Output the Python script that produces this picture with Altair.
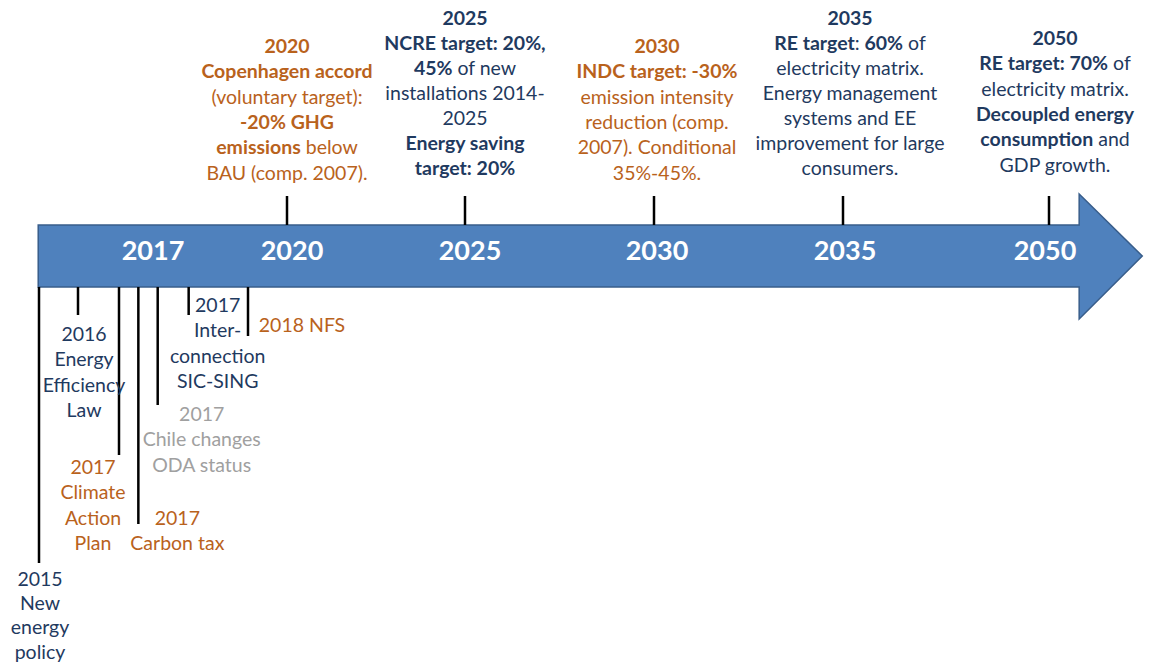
import glob
import subprocess
import altair as alt
import pandas as pd

# ---------------- data ----------------
# Targets above the arrow (year, colour group, text lines made of (text, bold) segments)
top_years = [2020, 2025, 2030, 2035, 2050]
top_groups = ["orange", "navy", "orange", "navy", "navy"]
top_2020 = [[("2020", 1)], [("Copenhagen accord", 1)], [("(voluntary target):", 0)],
            [("-20% GHG", 1)], [("emissions", 1), (" below", 0)], [("BAU (comp. 2007).", 0)]]
top_2025 = [[("2025", 1)], [("NCRE target: 20%,", 1)], [("45%", 1), (" of new", 0)],
            [("installations 2014-", 0)], [("2025", 0)], [("Energy saving", 1)], [("target: 20%", 1)]]
top_2030 = [[("2030", 1)], [("INDC target: -30%", 1)], [("emission intensity", 0)],
            [("reduction (comp.", 0)], [("2007). Conditional", 0)], [("35%-45%.", 0)]]
top_2035 = [[("2035", 1)], [("RE target", 1), (":", 0), (" 60%", 1), (" of", 0)],
            [("electricity matrix.", 0)], [("Energy management", 0)], [("systems and EE", 0)],
            [("improvement for large", 0)], [("consumers.", 0)]]
top_2050 = [[("2050", 1)], [("RE target: 70%", 1), (" of", 0)], [("electricity matrix.", 0)],
            [("Decoupled energy", 1)], [("consumption", 1), (" and", 0)], [("GDP growth.", 0)]]
top_texts = [top_2020, top_2025, top_2030, top_2035, top_2050]

# Policies below the arrow (position on the timeline in fractional years)
bottom_t = [2015, 2016, 2017.0, 2017.15, 2017.3, 2017.54, 2018]
bottom_groups = ["navy", "navy", "orange", "orange", "gray", "navy", "orange"]
bottom_texts = [["2015", "New", "energy", "policy"],
                ["2016", "Energy", "Efficiency", "Law"],
                ["2017", "Climate", "Action", "Plan"],
                ["2017", "Carbon tax"],
                ["2017", "Chile changes", "ODA status"],
                ["2017", "Inter-", "connection", "SIC-SING"],
                ["2018 NFS"]]

# Year labels on the arrow
arrow_years = [2017, 2020, 2025, 2030, 2035, 2050]

# ---------------- layout / style ----------------
FONT = "Lato"
FS = 19.5
ARROW_FS = 27
LINE = 25.3
top_first_line = [47, 19, 47, 19, 39]
top_line = [LINE, 25.0, LINE, 25.0, LINE]
top_dx = [0, 0, 3, 7, 6]
top_stem = (196, 225)
bottom_first_line = [580, 335, 468, 519, 415, 306, 326]
bottom_line = [24.2, LINE, LINE, LINE, LINE, LINE, LINE]
bottom_dx = [1, 6, -26, 39, 44, 29, 54]
bottom_stem_end = [563, 315, 455, 524, 405, 315, 336]
arrow_label_dx = [34, 5, 5, 3, 2, -4]
arrow_label_y = 252
# arrow outline (timeline units / page pixels)
arrow_t = [2014.98, 2052.2, 2052.2001, 2056.8]
arrow_top = [225, 225, 194, 256]
arrow_bot = [287, 287, 319, 256]

# piecewise timeline scale (years -> page pixels)
scale_years = [2015, 2016, 2017, 2018, 2020, 2025, 2030, 2035, 2050, 2057]
scale_page_px = [39, 78, 119, 248, 287, 465, 654, 843, 1049, 1145]

color_domain = ["orange", "navy", "gray", "white"]
color_range = ["#B9621C", "#1F3A60", "#A0A0A0", "#FFFFFF"]

# ---------------- text measuring ----------------
def find_font(style):
    try:
        p = subprocess.run(["fc-match", "-f", "%{file}", f"Lato:style={style}"],
                           capture_output=True, text=True, timeout=10).stdout.strip()
        if p and "Lato" in p:
            return p
    except Exception:
        pass
    hits = glob.glob(f"/usr/share/fonts/**/Lato-{style}.ttf", recursive=True)
    return hits[0] if hits else None

try:
    from PIL import ImageFont
    _f = {1: ImageFont.truetype(find_font("Bold"), 100), 0: ImageFont.truetype(find_font("Regular"), 100)}

    def tw(s, b):
        return _f[b].getlength(s) * FS / 100.0
except Exception:
    def tw(s, b):
        w = 0.0
        for ch in s:
            if ch == " ":
                w += 0.25
            elif ch.isdigit():
                w += 0.58
            elif ch.isupper():
                w += 0.64
            elif ch in ".,:;()-":
                w += 0.3
            elif ch == "%":
                w += 0.8
            elif ch in "il":
                w += 0.24
            elif ch in "mw":
                w += 0.8
            else:
                w += 0.52
        return w * FS * (1.04 if b else 1.0)

# ---------------- tables ----------------
rows = []
for t, g, y0, ls, dx, lines in zip(top_years, top_groups, top_first_line, top_line, top_dx, top_texts):
    for i, segs in enumerate(lines):
        y = y0 + i * ls
        if len(segs) == 1:
            rows.append(dict(t=t, y=y, text=segs[0][0], group=g, bold=segs[0][1], multi=0, off=dx))
        else:
            pieces, pos = [], 0.0
            for s, b in segs:
                lead = len(s) - len(s.lstrip(" "))
                pos += lead * tw(" ", 0)
                s2 = s.strip(" ")
                pieces.append((pos, s2, b))
                pos += tw(s2, b)
            for p, s2, b in pieces:
                rows.append(dict(t=t, y=y, text=s2, group=g, bold=b, multi=1,
                                 off=round(dx - pos / 2 + p, 1)))
for t, g, y0, ls, dx, lines in zip(bottom_t, bottom_groups, bottom_first_line, bottom_line,
                                   bottom_dx, bottom_texts):
    for i, s in enumerate(lines):
        rows.append(dict(t=t, y=y0 + i * ls, text=s, group=g, bold=0, multi=0, off=dx))
text_df = pd.DataFrame(rows)

arrow_lbl_df = pd.DataFrame(dict(t=arrow_years, y=arrow_label_y, text=[str(a) for a in arrow_years],
                                 off=arrow_label_dx))

stems = [dict(t=t, y=top_stem[0], y2=top_stem[1]) for t in top_years]
stems += [dict(t=t, y=287, y2=e) for t, e in zip(bottom_t, bottom_stem_end)]
stem_df = pd.DataFrame(stems)

arrow_df = pd.DataFrame(dict(t=arrow_t, y=arrow_top, y2=arrow_bot))

# ---------------- chart ----------------
X = alt.X("t:Q", axis=None,
          scale=alt.Scale(domain=scale_years, range=[p - 8 for p in scale_page_px], nice=False, zero=False))
Y = alt.Y("y:Q", axis=None, scale=alt.Scale(domain=[8, 664], range=[0, 656], nice=False, zero=False))
COLOR = alt.Color("group:N", legend=None, scale=alt.Scale(domain=color_domain, range=color_range))

arrow = alt.Chart(arrow_df).mark_area(fill="#4F81BD", stroke="#385D8A", strokeWidth=1.5).encode(
    x=X, y=Y, y2="y2:Q")

ticks = alt.Chart(stem_df).mark_rule(color="black", strokeWidth=2.5).encode(x=X, y=Y, y2="y2:Q")

layers = [arrow, ticks]

# arrow year labels (one layer per horizontal nudge)
for off in sorted(arrow_lbl_df["off"].unique()):
    layers.append(
        alt.Chart(arrow_lbl_df).transform_filter(f"datum.off == {off}").mark_text(
            font=FONT, fontSize=ARROW_FS, fontWeight="bold", align="center", baseline="middle",
            color="white", dx=float(off)
        ).encode(x=X, y=Y, text="text:N")
    )

# event texts: one layer per (weight, alignment, nudge)
for (bold, multi, off), _ in text_df.groupby(["bold", "multi", "off"]):
    layers.append(
        alt.Chart(text_df).transform_filter(
            f"datum.bold == {bold} && datum.multi == {multi} && abs(datum.off - ({off})) < 0.01"
        ).mark_text(
            font=FONT, fontSize=FS, fontWeight="bold" if bold else "normal",
            align="left" if multi else "center", baseline="middle", dx=float(off)
        ).encode(x=X, y=Y, text="text:N", color=COLOR)
    )

chart = alt.layer(*layers).properties(
    width=1139, height=656, padding=0, autosize="none", background="white"
).configure_view(stroke=None)

chart.save("out.html", embed_options={"renderer": "svg", "actions": False})
